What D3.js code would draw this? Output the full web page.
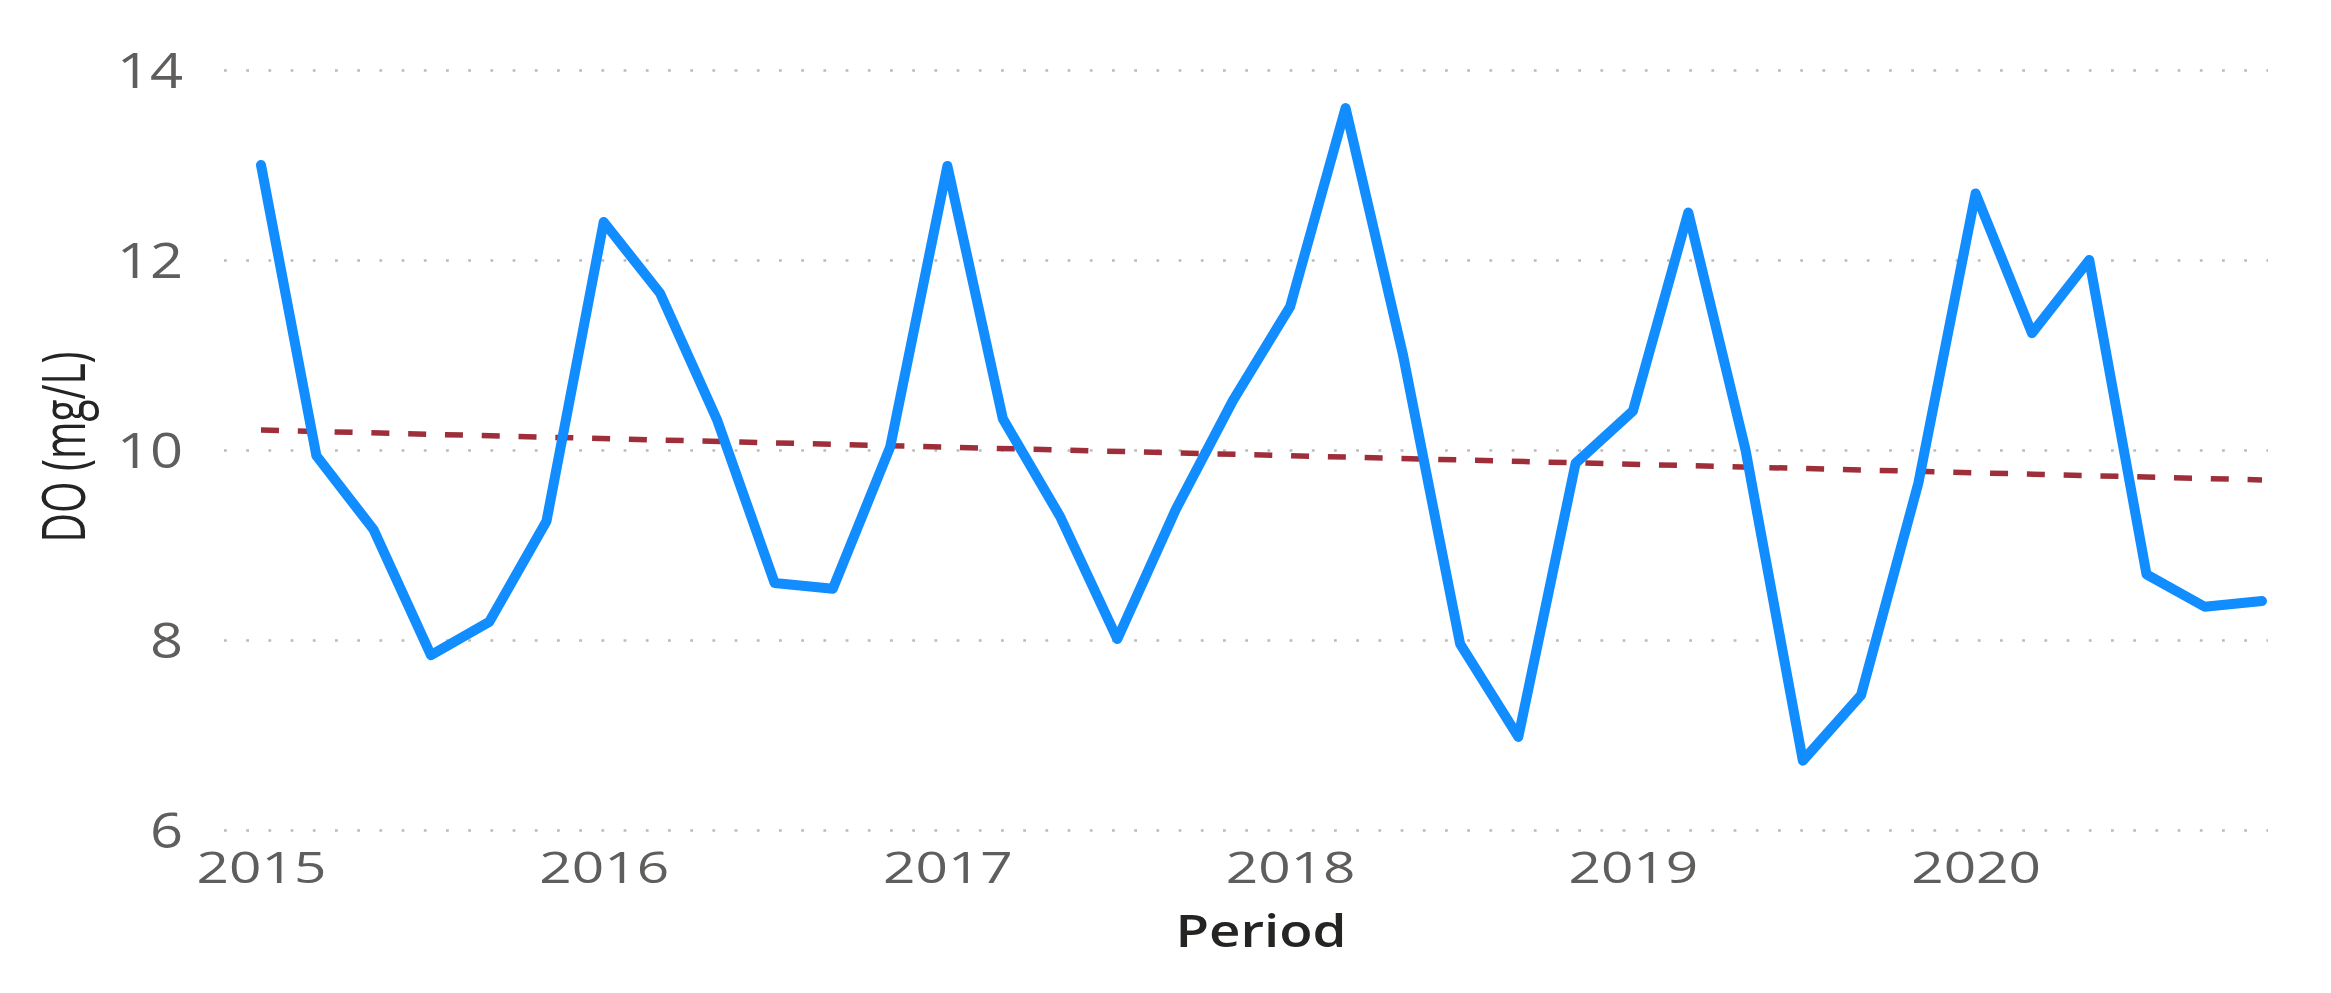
<!DOCTYPE html>
<html>
<head>
<meta charset="utf-8">
<script src="https://cdn.jsdelivr.net/npm/d3@7"></script>
<style>
  html, body { margin: 0; padding: 0; background: #ffffff; }
  svg { display: block; }
</style>
</head>
<body>
<svg id="chart" width="2331" height="993"></svg>
<script>
// ---------------- data ----------------
const periods = [
  "2015-01","2015-03","2015-05","2015-07","2015-09","2015-11",
  "2016-01","2016-03","2016-05","2016-07","2016-09","2016-11",
  "2017-01","2017-03","2017-05","2017-07","2017-09","2017-11",
  "2018-01","2018-03","2018-05","2018-07","2018-09","2018-11",
  "2019-01","2019-03","2019-05","2019-07","2019-09","2019-11",
  "2020-01","2020-03","2020-05","2020-07","2020-09","2020-11"
];
const doValues = [
  13.00, 9.94, 9.16, 7.84, 8.19, 9.25,
  12.40, 11.65, 10.31, 8.60, 8.54, 10.03,
  12.99, 10.33, 9.30, 8.01, 9.37, 10.52,
  11.51, 13.60, 11.01, 7.96, 6.98, 9.86,
  10.41, 12.50, 10.00, 6.73, 7.42, 9.65,
  12.70, 11.23, 12.00, 8.69, 8.35, 8.41
];
const trendPeriods = ["2015-01", "2020-11"];
const trendValues = [10.21, 9.685];
const yTicks = [6, 8, 10, 12, 14];
const xTickYears = ["2015", "2016", "2017", "2018", "2019", "2020"];
const yTitle = "DO (mg/L)";
const xTitle = "Period";

// ---------------- chart ----------------
const parse = d3.timeParse("%Y-%m");
const svg = d3.select("#chart");

const gridLeft = 224, gridRight = 2268;
const x = d3.scaleTime()
  .domain([parse(periods[0]), parse(periods[periods.length - 1])])
  .range([261, 2262]);
const y = d3.scaleLinear().domain([6, 14]).range([830, 70]);

const FONT = "'Open Sans', 'Noto Sans', sans-serif";

// Y axis with dotted gridlines
const yAxis = d3.axisLeft(y)
  .tickValues(yTicks)
  .tickFormat(d3.format("d"))
  .tickSizeInner(-(gridRight - gridLeft))
  .tickSizeOuter(0)
  .tickPadding(0);

const gy = svg.append("g")
  .attr("transform", `translate(${gridLeft},0)`)
  .call(yAxis);
gy.select(".domain").remove();
gy.selectAll(".tick line")
  .attr("stroke", "#bdbbb9")
  .attr("stroke-width", 2.6)
  .attr("stroke-dasharray", "2.8,19.4");
gy.selectAll(".tick text")
  .attr("fill", "#605e5c")
  .attr("font-family", FONT)
  .attr("font-size", 49)
  .attr("text-anchor", "end")
  .attr("x", 0)
  .attr("dy", "0.36em")
  .attr("transform", "translate(-41,0) scale(1.18,1)");

// X axis (labels only)
const xAxis = d3.axisBottom(x)
  .tickValues(xTickYears.map(s => d3.timeParse("%Y")(s)))
  .tickFormat(d3.timeFormat("%Y"))
  .tickSize(0)
  .tickPadding(0);
const gx = svg.append("g")
  .attr("transform", `translate(0,${y(6)})`)
  .call(xAxis);
gx.select(".domain").remove();
gx.selectAll(".tick text")
  .attr("fill", "#605e5c")
  .attr("font-family", FONT)
  .attr("font-size", 43)
  .attr("y", 0)
  .attr("dy", 0)
  .attr("transform", "translate(0,53) scale(1.32,1)");

// Trend line
const line = d3.line()
  .x(d => x(d[0]))
  .y(d => y(d[1]));

svg.append("path")
  .datum(trendPeriods.map((p, i) => [parse(p), trendValues[i]]))
  .attr("fill", "none")
  .attr("stroke", "#9e2f3a")
  .attr("stroke-width", 5.5)
  .attr("stroke-dasharray", "18,18.8")
  .attr("d", line);

// Main series
svg.append("path")
  .datum(periods.map((p, i) => [parse(p), doValues[i]]))
  .attr("fill", "none")
  .attr("stroke", "#118dff")
  .attr("stroke-width", 10)
  .attr("stroke-linejoin", "round")
  .attr("stroke-linecap", "round")
  .attr("d", line);

// Axis titles
svg.append("text")
  .attr("transform", "translate(1261,947) scale(1.25,1)")
  .attr("text-anchor", "middle")
  .attr("fill", "#252423")
  .attr("font-family", FONT)
  .attr("font-weight", 600)
  .attr("font-size", 45)
  .attr("textLength", 137)
  .attr("lengthAdjust", "spacingAndGlyphs")
  .text(xTitle);

svg.append("text")
  .attr("transform", "translate(85,447) scale(1.3,1) rotate(-90)")
  .attr("text-anchor", "middle")
  .attr("fill", "#252423")
  .attr("font-family", FONT)
  .attr("font-size", 46)
  .attr("textLength", 191)
  .attr("lengthAdjust", "spacingAndGlyphs")
  .text(yTitle);
</script>
</body>
</html>
